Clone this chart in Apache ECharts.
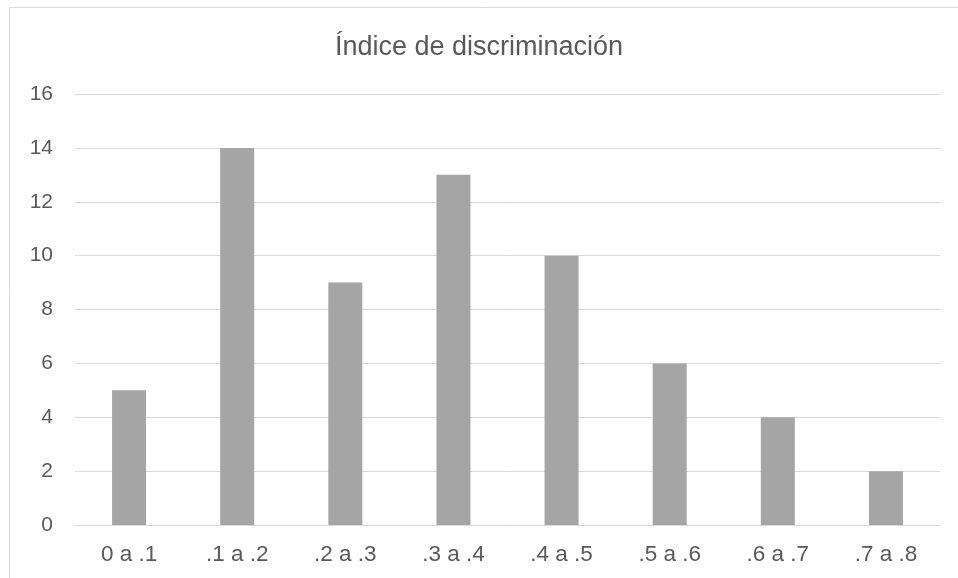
<!DOCTYPE html>
<html>
<head>
<meta charset="utf-8">
<script src="https://cdn.jsdelivr.net/npm/echarts@6/dist/echarts.min.js"></script>
<style>
  html, body { margin: 0; padding: 0; background: #fff; }
  #chart { width: 958px; height: 578px; }
</style>
</head>
<body>
<div id="chart"></div>
<script>
// Histogram of item discrimination indices
const chartTitle = 'Índice de discriminación';
const categories = ['0 a .1', '.1 a .2', '.2 a .3', '.3 a .4', '.4 a .5', '.5 a .6', '.6 a .7', '.7 a .8'];
const counts = [5, 14, 9, 13, 10, 6, 4, 2];
const yTicks = [0, 2, 4, 6, 8, 10, 12, 14, 16];

const textColor = '#595959';
const gridColor = '#d9d9d9';
const font = '"Liberation Sans", Arial, sans-serif';

const chart = echarts.init(document.getElementById('chart'), null, { renderer: 'canvas' });
chart.setOption({
  backgroundColor: '#ffffff',
  animation: false,
  graphic: [{
    type: 'rect',
    shape: { x: 9.5, y: 7.5, width: 1000, height: 700 },
    style: { fill: 'none', stroke: '#d9d9d9', lineWidth: 1 },
    silent: true
  }],
  title: {
    text: chartTitle,
    left: 'center',
    top: 29,
    textStyle: { color: textColor, fontFamily: font, fontSize: 27, fontWeight: 'normal' }
  },
  grid: { left: 75, right: 18, top: 94, bottom: 53, containLabel: false },
  xAxis: {
    type: 'category',
    data: categories,
    axisLine: { show: true, lineStyle: { color: gridColor, width: 1 } },
    axisTick: { show: false },
    axisLabel: { color: textColor, fontFamily: font, fontSize: 22.5, margin: 18 }
  },
  yAxis: {
    type: 'value',
    min: yTicks[0],
    max: yTicks[yTicks.length - 1],
    interval: yTicks[1] - yTicks[0],
    axisLine: { show: false },
    axisTick: { show: false },
    splitLine: { lineStyle: { color: gridColor, width: 1 } },
    axisLabel: { color: textColor, fontFamily: font, fontSize: 21, margin: 22 }
  },
  series: [{
    type: 'bar',
    data: counts,
    barWidth: 34,
    itemStyle: { color: '#a5a5a5' }
  }]
});
</script>
</body>
</html>
